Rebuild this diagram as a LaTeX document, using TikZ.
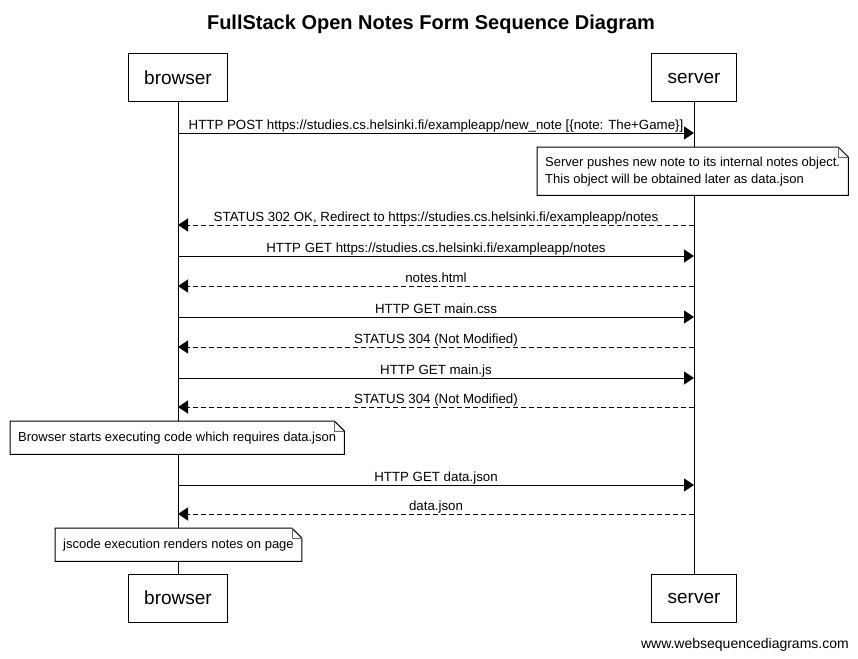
\documentclass[tikz,border=0pt]{standalone}
\usepackage{fontspec}
\setmainfont{Liberation Sans}
\usetikzlibrary{arrows.meta,positioning,calc}

\begin{document}
\begin{tikzpicture}[
  x=1pt, y=-1pt,
  actor/.style={draw, line width=1pt, fill=white, inner xsep=16pt,
                minimum height=48pt, font=\fontsize{19}{22}\selectfont},
  msg/.style={-{Triangle[length=10pt,width=13pt]}, line width=1pt},
  reply/.style={msg, dash pattern=on 5pt off 3pt},
  lbl/.style={midway, anchor=base, yshift=4pt, inner sep=0pt,
              font=\fontsize{13.3}{15}\selectfont},
  note/.style={fill=white, anchor=north west, align=left, inner xsep=8pt,
               inner ysep=0pt, font=\fontsize{13}{17}\selectfont},
  noteline/.style={line width=1pt},
  fold/.style={line width=0.6pt, black!60}
]
\useasboundingbox (0,0) rectangle (858,658);

% title
\node[font=\bfseries\fontsize{20}{24}\selectfont] (title) at (431,24)
  {FullStack Open Notes Form Sequence Diagram};

% participants
\node[actor] (bt) at (178,78)  {browser};
\node[actor] (st) at (694,78)  {server};
\node[actor] (bb) at (178,598) {browser};
\node[actor] (sb) at (694,598) {server};

% lifelines
\draw[line width=1pt] (bt.south) -- (bb.north);
\draw[line width=1pt] (st.south) -- (sb.north);

% message rows on the lifelines
\foreach \y [count=\i] in {133,225,256,286,317,347,378,407,485,514} {
  \coordinate (b\i) at (bt |- 0,\y);
  \coordinate (s\i) at (st |- 0,\y);
}

% messages
\draw[msg]   (b1)  -- (s1)  node[lbl] {HTTP POST https://studies.cs.helsinki.fi/exampleapp/new\_note [\{note: The+Game\}]};
\draw[reply] (s2)  -- (b2)  node[lbl] {STATUS 302 OK, Redirect to https://studies.cs.helsinki.fi/exampleapp/notes};
\draw[msg]   (b3)  -- (s3)  node[lbl] {HTTP GET https://studies.cs.helsinki.fi/exampleapp/notes};
\draw[reply] (s4)  -- (b4)  node[lbl] {notes.html};
\draw[msg]   (b5)  -- (s5)  node[lbl] {HTTP GET main.css};
\draw[reply] (s6)  -- (b6)  node[lbl] {STATUS 304 (Not Modified)};
\draw[msg]   (b7)  -- (s7)  node[lbl] {HTTP GET main.js};
\draw[reply] (s8)  -- (b8)  node[lbl] {STATUS 304 (Not Modified)};
\draw[msg]   (b9)  -- (s9)  node[lbl] {HTTP GET data.json};
\draw[reply] (s10) -- (b10) node[lbl] {data.json};

% notes
\node[note, minimum height=48pt] (n1) at (537,147)
  {Server pushes new note to its internal notes object.\\This object will be obtained later as data.json};
\node[note, minimum height=33pt] (n2) at (10,421)
  {Browser starts executing code which requires data.json};
\node[note, minimum height=33pt] (n3) at (55,528)
  {jscode execution renders notes on page};
\foreach \n in {n1,n2,n3} {
  \draw[noteline] (\n.north west) -- ([xshift=-10pt]\n.north east)
    -- ([yshift=-10pt]\n.north east) -- (\n.south east) -- (\n.south west) -- cycle;
  \draw[fold] ([xshift=-10pt]\n.north east) |- ([yshift=-10pt]\n.north east);
}

% footer
\node[anchor=base east, inner sep=0pt, font=\fontsize{14}{16}\selectfont] (site) at (849,648)
  {www.websequencediagrams.com};
\end{tikzpicture}
\end{document}
